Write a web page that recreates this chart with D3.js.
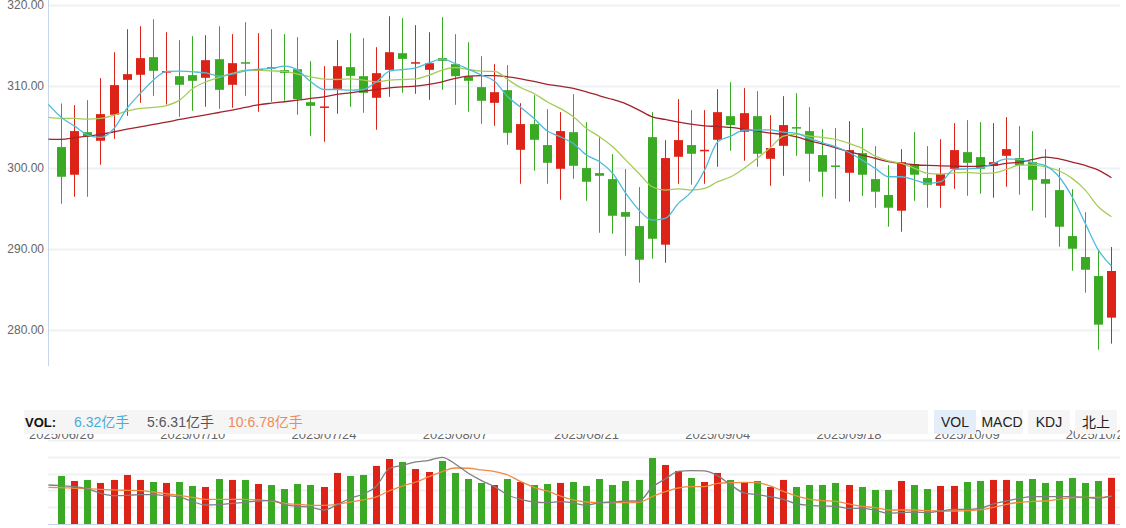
<!DOCTYPE html>
<html>
<head>
<meta charset="utf-8">
<script src="https://cdn.jsdelivr.net/npm/d3@7"></script>
<style>
  html, body { margin: 0; padding: 0; background: #fff; }
  svg { display: block; font-family: "Liberation Sans", Arial, "Noto Sans CJK SC", sans-serif; }
</style>
</head>
<body>
<div id="chart"></div>
<script>
// trading days; the first one only feeds the start of the average lines
var dates = [
  "2025/06/25","2025/06/26","2025/06/27","2025/06/30",
  "2025/07/01","2025/07/02","2025/07/03","2025/07/04","2025/07/07","2025/07/08","2025/07/09","2025/07/10",
  "2025/07/11","2025/07/14","2025/07/15","2025/07/16","2025/07/17","2025/07/18","2025/07/21","2025/07/22",
  "2025/07/23","2025/07/24","2025/07/25","2025/07/28","2025/07/29","2025/07/30","2025/07/31",
  "2025/08/01","2025/08/04","2025/08/05","2025/08/06","2025/08/07","2025/08/08","2025/08/11","2025/08/12",
  "2025/08/13","2025/08/14","2025/08/15","2025/08/18","2025/08/19","2025/08/20","2025/08/21","2025/08/22",
  "2025/08/25","2025/08/26","2025/08/27","2025/08/28","2025/08/29",
  "2025/09/01","2025/09/02","2025/09/03","2025/09/04","2025/09/05","2025/09/08","2025/09/09","2025/09/10",
  "2025/09/11","2025/09/12","2025/09/15","2025/09/16","2025/09/17","2025/09/18","2025/09/19","2025/09/22",
  "2025/09/23","2025/09/24","2025/09/25","2025/09/26","2025/09/29","2025/09/30",
  "2025/10/09","2025/10/10","2025/10/13","2025/10/14","2025/10/15","2025/10/16","2025/10/17","2025/10/20",
  "2025/10/21","2025/10/22","2025/10/23","2025/10/24"
];

// candles, from 2025/06/26
var open = [
  302.51,299.11,304.35,303.29,306.49,310.79,311.41,313.58,311.69,311.24,
  311.37,311.04,313.33,310.18,312.96,312.02,312.35,311.98,312.10,308.04,
  307.35,309.68,312.35,311.24,308.58,312.02,314.07,312.88,312.02,313.46,
  312.72,311.24,309.89,307.96,309.52,302.18,305.34,302.76,299.84,304.35,
  299.93,299.31,298.57,294.51,292.79,303.74,290.50,301.32,302.76,302.06,
  303.41,306.32,304.40,306.32,301.07,302.67,304.97,304.48,301.53,300.25,
  299.35,301.77,298.57,296.61,294.68,300.42,298.70,297.75,299.84,301.89,
  301.28,300.21,301.44,301.16,300.66,298.57,297.22,291.56,288.98,286.64,281.52
];
var close = [
  298.86,304.48,303.78,306.57,310.14,311.49,313.46,311.90,311.86,310.18,
  310.67,313.21,309.56,312.84,312.88,312.10,312.27,311.65,308.41,307.59,
  307.51,312.47,311.28,309.19,311.61,314.19,313.37,312.96,312.84,313.13,
  311.24,310.67,308.21,309.27,304.27,305.34,303.41,300.58,304.48,300.21,
  298.25,298.98,294.06,293.94,288.65,291.23,301.16,303.37,301.69,302.18,
  306.81,305.22,306.69,301.69,302.39,305.22,304.89,301.69,299.48,300.17,
  302.14,299.11,297.02,295.05,300.66,299.11,297.88,299.19,302.14,300.58,
  299.84,300.66,302.26,300.30,298.49,298.00,292.71,290.00,287.42,280.66,287.26
];
var high = [
  307.88,307.67,308.29,311.00,314.19,317.02,317.39,318.25,316.65,315.67,
  316.16,316.28,317.39,316.41,317.88,316.53,317.02,316.41,316.04,313.09,
  312.47,315.67,316.53,315.92,314.81,318.62,318.38,317.52,316.65,318.50,
  316.41,315.42,313.70,312.72,312.60,307.92,308.91,307.18,306.81,309.03,
  305.58,303.74,301.65,299.80,297.59,306.81,303.37,308.41,307.06,307.06,
  309.64,310.50,309.77,309.40,306.44,308.78,309.15,307.43,304.72,304.85,
  305.71,304.85,302.63,300.30,302.26,304.35,302.63,303.49,305.46,305.83,
  305.58,305.46,306.20,305.09,304.48,302.26,299.93,297.34,294.51,289.88,290.21
];
var low = [
  295.54,296.40,296.40,300.34,303.53,306.36,307.96,308.82,307.76,306.24,
  306.98,307.47,307.22,307.35,308.82,306.86,308.09,308.21,306.49,303.90,
  303.17,306.61,307.47,306.73,304.64,308.70,309.19,309.07,308.33,309.56,
  307.72,306.86,305.38,305.13,302.80,298.00,299.60,298.00,296.03,298.61,
  295.91,291.97,291.85,289.14,285.82,288.77,288.28,298.00,297.88,298.00,
  300.09,302.06,300.83,300.09,297.75,298.98,301.44,298.25,296.40,296.15,
  295.79,296.52,295.05,292.71,292.10,295.91,295.05,295.05,297.38,296.52,
  296.77,296.28,297.63,296.65,294.68,293.82,290.25,287.30,284.59,277.58,278.32
];

// price averages, from 2025/06/25
var ma5 = [
  307.76,306.16,305.09,303.99,303.70,304.80,307.30,309.11,310.75,311.82,
  311.86,311.78,311.65,311.24,311.49,311.90,312.10,312.19,312.47,311.98,
  310.55,309.60,309.60,309.52,309.60,310.55,311.86,312.06,312.27,312.88,
  313.33,312.80,312.10,311.37,310.63,308.70,307.39,306.04,304.52,303.78,
  302.96,301.53,300.71,299.27,296.81,294.76,293.53,293.74,295.58,297.02,
  299.68,303.17,303.86,304.60,304.60,304.64,304.35,304.19,303.58,303.04,
  302.55,301.85,300.91,299.89,298.86,298.86,298.45,298.04,298.25,299.76,
  299.84,299.93,300.50,301.07,300.99,300.58,300.21,298.86,296.40,293.12,289.84,287.87
];
var ma10 = [
  306.16,306.04,306.04,305.95,306.04,306.45,306.94,307.27,307.39,307.63,
  308.29,309.73,310.55,311.08,311.57,311.98,311.98,311.90,311.82,311.49,
  311.16,310.87,310.83,310.91,310.75,310.55,310.75,310.83,310.91,311.37,
  311.98,312.31,312.06,311.86,311.82,310.83,309.81,309.11,308.09,307.27,
  306.24,304.81,303.78,302.55,300.91,299.27,297.63,297.22,297.38,297.22,
  297.43,298.25,298.86,299.89,301.12,302.43,303.86,304.11,303.86,303.70,
  303.45,302.96,302.35,301.40,300.83,300.50,299.89,299.27,299.19,299.35,
  299.39,299.27,299.35,299.76,300.30,300.30,300.09,299.60,298.66,297.22,295.17,293.94
];
var ma20 = [
  303.49,303.45,303.66,303.86,304.07,304.40,304.72,305.01,305.30,305.58,
  305.91,306.20,306.49,306.77,307.06,307.39,307.72,307.92,308.09,308.29,
  308.50,308.70,308.99,309.19,309.40,309.60,309.81,309.93,310.01,310.22,
  310.55,310.96,311.24,311.32,311.32,311.16,310.91,310.59,310.22,310.01,
  309.73,309.32,308.82,308.37,307.84,307.06,306.24,305.91,305.58,305.34,
  305.13,305.05,304.93,304.72,304.48,304.23,304.07,303.78,303.29,302.88,
  302.43,301.94,301.53,301.12,300.71,300.50,300.34,300.25,300.21,300.17,
  300.13,300.17,300.25,300.50,300.66,300.99,301.28,301.07,300.66,300.25,299.68,298.74
];

// volume in 亿手, from 2025/06/26
var volume = [
  6.58,5.89,6.03,5.62,6.03,6.71,6.03,5.75,5.62,5.75,
  5.21,5.07,6.16,6.03,6.03,5.48,5.34,4.79,5.48,5.34,
  5.07,6.99,6.58,6.71,7.95,8.90,8.49,7.53,7.12,8.63,
  6.99,6.16,5.62,5.34,6.16,5.75,5.34,5.48,5.62,5.75,
  5.21,6.16,5.34,5.89,6.03,9.04,8.08,7.26,6.30,5.75,
  6.99,6.03,5.62,5.89,5.07,6.03,5.07,5.34,5.34,5.62,
  5.34,5.07,4.66,4.66,5.89,5.34,4.79,5.21,5.21,5.75,
  5.89,6.03,6.03,5.89,6.16,5.62,5.89,6.30,5.62,5.89,6.32
];
// volume lines as drawn, from 2025/06/25
var volMa5 = [
  5.34,5.25,5.11,4.79,4.20,3.88,3.93,4.02,4.02,3.88,
  3.70,3.06,2.60,2.65,2.83,2.97,3.15,3.24,2.65,2.42,
  2.28,1.92,2.65,3.52,4.11,5.21,7.63,8.04,8.49,8.72,
  9.13,8.22,6.94,5.94,5.11,3.97,3.38,3.01,2.92,3.06,
  2.88,2.56,2.92,3.01,3.15,3.15,5.02,6.16,7.21,7.31,
  7.26,6.58,5.34,4.25,4.02,3.74,3.38,2.74,2.56,2.47,
  2.42,2.15,2.15,1.87,1.46,1.55,1.64,1.55,1.78,2.01,
  2.01,2.15,2.74,3.15,3.52,3.74,3.74,3.74,3.74,3.65,3.52,3.84
];
var volMa10 = [
  5.02,4.98,4.89,4.84,4.75,4.66,4.61,4.57,4.38,4.16,
  3.93,3.65,3.38,3.38,3.38,3.38,3.29,3.15,2.83,2.69,
  2.56,2.56,2.69,3.01,3.29,3.70,4.57,5.21,5.75,6.48,
  7.17,7.67,7.63,7.40,7.17,6.71,5.80,5.02,4.52,3.84,
  3.29,3.01,2.92,2.92,2.92,2.97,3.74,4.43,4.93,5.11,
  5.11,5.57,5.66,5.71,5.66,5.21,4.47,3.84,3.38,3.20,
  3.11,2.74,2.42,2.24,1.92,1.92,1.92,1.83,1.78,1.78,
  1.83,1.92,2.28,2.69,2.97,3.11,3.15,3.38,3.61,3.65,3.65,3.79
];

var priceTicks = [280, 290, 300, 310, 320];
var volGrid = [2.3, 4.6, 6.9, 9.2, 11.5];
var dateTicks = ["2025/06/26","2025/07/10","2025/07/24","2025/08/07","2025/08/21",
                 "2025/09/04","2025/09/18","2025/10/09","2025/10/23"];
var tabs = ["VOL", "MACD", "KDJ", "北上"];

var width = 1126, height = 528;
var left = 48, right = 1120;
var upColor = "#dd2217", downColor = "#3aaa24";

var svg = d3.select("#chart").append("svg")
  .attr("width", width)
  .attr("height", height);

var x = d3.scalePoint()
  .domain(dates)
  .range([48.375, 1111.5]);

var y = d3.scaleLinear()
  .domain([280, 320])
  .range([330, 5]);

var yVol = d3.scaleLinear()
  .domain([0, 11.5])
  .range([524, 440]);

function px(d) { return Math.floor(x(d)) + 0.5; }

svg.append("clipPath").attr("id", "clip-price")
  .append("rect").attr("x", left).attr("y", 0).attr("width", right - left).attr("height", 366);
svg.append("clipPath").attr("id", "clip-dates")
  .append("rect").attr("x", 0).attr("y", 380).attr("width", right).attr("height", 80);

// price grid + labels
svg.append("g").selectAll("line")
  .data(priceTicks).enter().append("line")
  .attr("x1", left).attr("x2", right)
  .attr("y1", function(d) { return Math.round(y(d)) + 0.5; })
  .attr("y2", function(d) { return Math.round(y(d)) + 0.5; })
  .attr("stroke", "#eef1f6").attr("stroke-width", 2);

svg.append("g").selectAll("text")
  .data(priceTicks).enter().append("text")
  .attr("x", 44)
  .attr("y", function(d) { return y(d); })
  .attr("dy", "0.35em")
  .attr("text-anchor", "end")
  .style("font-size", "12px")
  .attr("fill", "#666")
  .text(function(d) { return d.toFixed(2); });

svg.append("line")
  .attr("x1", left + 0.5).attr("x2", left + 0.5)
  .attr("y1", 0).attr("y2", 366)
  .attr("stroke", "#c6d5ea");

var candles = dates.slice(1).map(function(d, i) {
  return { date: d, o: open[i], c: close[i], h: high[i], l: low[i], v: volume[i] };
});

var price = svg.append("g").attr("clip-path", "url(#clip-price)");

price.selectAll(".wick")
  .data(candles).enter().append("line")
  .attr("x1", function(d) { return px(d.date); })
  .attr("x2", function(d) { return px(d.date); })
  .attr("y1", function(d) { return y(d.h); })
  .attr("y2", function(d) { return y(d.l); })
  .attr("stroke", function(d) { return d.c >= d.o ? upColor : downColor; });

price.selectAll(".body")
  .data(candles).enter().append("rect")
  .attr("x", function(d) { return px(d.date) - 4.5; })
  .attr("width", 9)
  .attr("y", function(d) { return y(Math.max(d.o, d.c)); })
  .attr("height", function(d) { return Math.max(1.5, Math.abs(y(d.o) - y(d.c))); })
  .attr("fill", function(d) { return d.c >= d.o ? upColor : downColor; });

// moving averages
var maLine = d3.line()
  .x(function(d, i) { return x(dates[i]); })
  .y(function(d) { return y(d); })
  .curve(d3.curveMonotoneX);

[[ma20, "#a3222d"], [ma10, "#a6cc58"], [ma5, "#4fbbdc"]].forEach(function(s) {
  price.append("path")
    .attr("d", maLine(s[0]))
    .attr("fill", "none")
    .attr("stroke", s[1])
    .attr("stroke-width", 1.3);
});

// date labels sit under the VOL bar, cut at the plot's right edge
svg.append("g").attr("clip-path", "url(#clip-dates)")
  .selectAll("text")
  .data(dateTicks).enter().append("text")
  .attr("x", function(d) { return x(d); })
  .attr("y", 439)
  .attr("text-anchor", "middle")
  .style("font-size", "13px")
  .attr("fill", "#666")
  .text(function(d) { return d; });

// volume pane
svg.append("g").selectAll("line")
  .data(volGrid).enter().append("line")
  .attr("x1", left).attr("x2", right)
  .attr("y1", function(d) { return Math.round(yVol(d)) + 0.5; })
  .attr("y2", function(d) { return Math.round(yVol(d)) + 0.5; })
  .attr("stroke", "#f0f1f4").attr("stroke-width", 2);

svg.append("g").selectAll("rect")
  .data(candles).enter().append("rect")
  .attr("x", function(d) { return px(d.date) - 3.5; })
  .attr("width", 7)
  .attr("y", function(d) { return yVol(d.v); })
  .attr("height", function(d) { return yVol(0) - yVol(d.v); })
  .attr("fill", function(d) { return d.c >= d.o ? upColor : downColor; });

svg.append("line")
  .attr("x1", left).attr("x2", right)
  .attr("y1", yVol(0) + 0.5).attr("y2", yVol(0) + 0.5)
  .attr("stroke", "#c6d5ea");

var volLine = d3.line()
  .x(function(d, i) { return x(dates[i]); })
  .y(function(d) { return yVol(d); })
  .curve(d3.curveMonotoneX);

[[volMa10, "#f08a40"], [volMa5, "#7f7f7f"]].forEach(function(s) {
  svg.append("path")
    .attr("d", volLine(s[0]))
    .attr("fill", "none")
    .attr("stroke", s[1])
    .attr("stroke-width", 1.3);
});

// VOL header bar
svg.append("rect")
  .attr("x", 24).attr("y", 410).attr("width", 904).attr("height", 24)
  .attr("fill", "#f5f5f5");

var legend = svg.append("text").attr("y", 427).style("font-size", "14px");
legend.append("tspan").attr("x", 25).attr("fill", "#111").style("font-weight", "bold").style("font-size", "13px").text("VOL:");
legend.append("tspan").attr("x", 74).attr("fill", "#48acd9").text("6.32亿手");
legend.append("tspan").attr("x", 147).attr("fill", "#555").text("5:6.31亿手");
legend.append("tspan").attr("x", 228).attr("fill", "#ef8a55").text("10:6.78亿手");

var tabX = [934, 981, 1028, 1075];
var tabW = [42, 42, 42, 42];
var tab = svg.append("g").selectAll("g")
  .data(tabs).enter().append("g");

tab.append("rect")
  .attr("x", function(d, i) { return tabX[i]; })
  .attr("y", 410)
  .attr("width", function(d, i) { return tabW[i]; })
  .attr("height", 24)
  .attr("fill", function(d, i) { return i === 0 ? "#e4eef9" : "#f5f5f5"; });

tab.append("text")
  .attr("x", function(d, i) { return tabX[i] + tabW[i] / 2; })
  .attr("y", 427)
  .attr("text-anchor", "middle")
  .style("font-size", "14px")
  .attr("fill", "#222")
  .text(function(d) { return d; });
</script>
</body>
</html>
